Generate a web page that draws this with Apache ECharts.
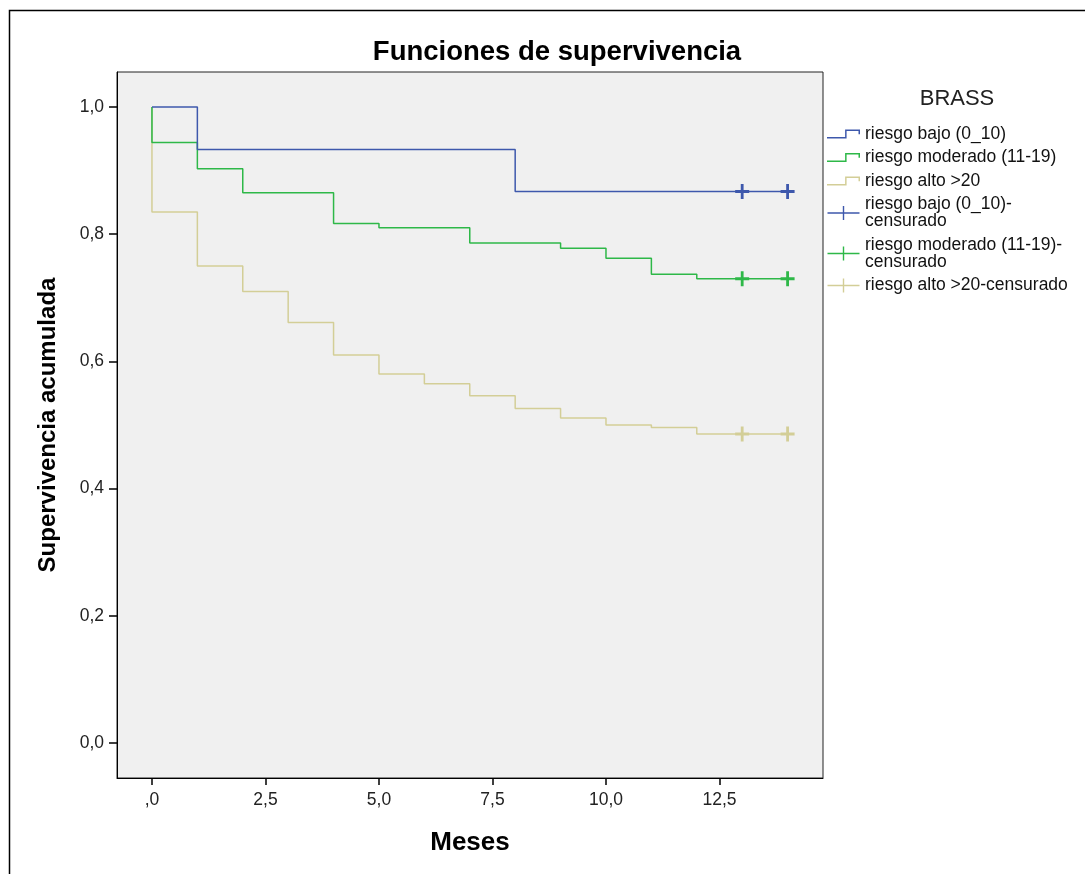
<!DOCTYPE html>
<html>
<head>
<meta charset="utf-8">
<script src="https://cdn.jsdelivr.net/npm/echarts@6/dist/echarts.min.js"></script>
<style>
  html, body { margin: 0; padding: 0; background: #fff; }
  #chart { width: 1085px; height: 874px; }
</style>
</head>
<body>
<div id="chart"></div>
<script>
// ===== Kaplan-Meier: BRASS groups =====

const FONT = 'Arial, "Liberation Sans", sans-serif';

// survival steps (months, cumulative survival)
const mesesBajo = [0, 1, 8, 14];
const survBajo  = [1.0, 0.933, 0.867, 0.867];

const mesesMod = [0, 0, 1, 2, 4, 5, 7, 9, 10, 11, 12, 14];
const survMod  = [1.0, 0.944, 0.903, 0.865, 0.817, 0.810, 0.786, 0.778, 0.762, 0.737, 0.730, 0.730];

const mesesAlto = [0, 0, 1, 2, 3, 4, 5, 6, 7, 8, 9, 10, 11, 12, 14];
const survAlto  = [1.0, 0.835, 0.750, 0.710, 0.661, 0.610, 0.580, 0.565, 0.546, 0.526, 0.511, 0.500, 0.496, 0.486, 0.486];

// censored cases
const censMeses = [13, 14];
const censBajo  = [0.867, 0.867];
const censMod   = [0.730, 0.730];
const censAlto  = [0.486, 0.486];

const xTicks = [0, 2.5, 5, 7.5, 10, 12.5];
const yTicks = [0, 0.2, 0.4, 0.6, 0.8, 1.0];

const nombres = ['riesgo bajo (0_10)', 'riesgo moderado (11-19)', 'riesgo alto >20'];
const censNames = [
  'riesgo bajo (0_10)-\ncensurado',
  'riesgo moderado (11-19)-\ncensurado',
  'riesgo alto >20-censurado'
];
const colores = ['#3E58AC', '#2EB848', '#D3CE97'];

const STEP_ICON = 'path://M0,7 L17,7 L17,0 L31,0 L31,4.5 L29.6,4.5 L29.6,1.4 L18.4,1.4 L18.4,8.4 L0,8.4 Z';
const PLUS_ICON = 'path://M0,6.3 L15.3,6.3 L15.3,0 L16.7,0 L16.7,6.3 L32,6.3 L32,7.7 L16.7,7.7 L16.7,14 L15.3,14 L15.3,7.7 L0,7.7 Z';
const PLUS_MARK = 'path://M4,0 L6,0 L6,4 L10,4 L10,6 L6,6 L6,10 L4,10 L4,6 L0,6 L0,4 L4,4 Z';

function pairs(xs, ys) { return xs.map((x, i) => [x, ys[i]]); }

// comma decimals, SPSS style (",0" for zero)
function fmtX(v) { return v === 0 ? ',0' : v.toFixed(1).replace('.', ','); }
function fmtY(v) { return v.toFixed(1).replace('.', ','); }

function stepSeries(name, xs, ys, color) {
  return {
    name: name, type: 'line', step: 'end', silent: true,
    symbol: 'none', showSymbol: false,
    lineStyle: { color: color, width: 1.5 },
    itemStyle: { color: color },
    data: pairs(xs, ys)
  };
}

function censSeries(name, ys, color) {
  return {
    name: name, type: 'scatter', silent: true,
    symbol: PLUS_MARK, symbolSize: [14, 15],
    itemStyle: { color: color, opacity: 1 },
    z: 5,
    data: pairs(censMeses, ys)
  };
}

const chart = echarts.init(document.getElementById('chart'), null, { renderer: 'canvas' });

chart.setOption({
  animation: false,
  backgroundColor: '#ffffff',
  textStyle: { fontFamily: FONT },
  title: [
    { text: 'Funciones de supervivencia', left: 552, top: 33, textAlign: 'center',
      textStyle: { fontFamily: FONT, fontSize: 27.5, fontWeight: 'bold', color: '#000' } },
    { text: 'BRASS', left: 952, top: 83, textAlign: 'center',
      textStyle: { fontFamily: FONT, fontSize: 22, fontWeight: 'normal', color: '#222' } }
  ],
  graphic: [
    { type: 'rect', shape: { x: 9.5, y: 10.5, width: 1200, height: 1000 },
      style: { fill: 'none', stroke: '#000', lineWidth: 1.5 }, silent: true }
  ],
  legend: {
    orient: 'vertical', left: 822, top: 120,
    itemWidth: 33, itemHeight: 14, itemGap: 5.5,
    selectedMode: false,
    itemStyle: { borderWidth: 0 },
    textStyle: { fontFamily: FONT, fontSize: 17.5, color: '#111', lineHeight: 17 },
    data: [
      { name: nombres[0], icon: STEP_ICON },
      { name: nombres[1], icon: STEP_ICON },
      { name: nombres[2], icon: STEP_ICON },
      { name: censNames[0], icon: PLUS_ICON },
      { name: censNames[1], icon: PLUS_ICON },
      { name: censNames[2], icon: PLUS_ICON }
    ]
  },
  grid: {
    left: 117, right: 262, top: 72, bottom: 96,
    show: true, backgroundColor: '#f0f0f0', borderColor: '#222', borderWidth: 1
  },
  xAxis: {
    type: 'value', min: -0.77, max: 14.78,
    name: 'Meses', nameLocation: 'middle', nameGap: 52,
    nameTextStyle: { fontFamily: FONT, fontSize: 26, fontWeight: 'bold', color: '#000' },
    axisLine: { onZero: false, lineStyle: { color: '#000', width: 1 } },
    axisTick: { length: 7, customValues: xTicks, lineStyle: { color: '#000', width: 1.5 } },
    axisLabel: { customValues: xTicks, formatter: fmtX, margin: 13,
      fontFamily: FONT, fontSize: 17.5, color: '#222' },
    splitLine: { show: false }
  },
  yAxis: {
    type: 'value', min: -0.055, max: 1.055,
    name: 'Supervivencia acumulada', nameLocation: 'middle', nameGap: 57, nameRotate: 90,
    nameTextStyle: { fontFamily: FONT, fontSize: 24, fontWeight: 'bold', color: '#000' },
    axisLine: { show: true, onZero: false, lineStyle: { color: '#000', width: 1 } },
    axisTick: { show: true, length: 8, customValues: yTicks, lineStyle: { color: '#000', width: 1.5 } },
    axisLabel: { customValues: yTicks, formatter: fmtY, margin: 13,
      fontFamily: FONT, fontSize: 17.5, color: '#222' },
    splitLine: { show: false }
  },
  series: [
    stepSeries(nombres[2], mesesAlto, survAlto, colores[2]),
    stepSeries(nombres[1], mesesMod, survMod, colores[1]),
    stepSeries(nombres[0], mesesBajo, survBajo, colores[0]),
    censSeries(censNames[0], censBajo, colores[0]),
    censSeries(censNames[1], censMod, colores[1]),
    censSeries(censNames[2], censAlto, colores[2])
  ]
});

window.addEventListener('resize', () => chart.resize());
</script>
</body>
</html>
